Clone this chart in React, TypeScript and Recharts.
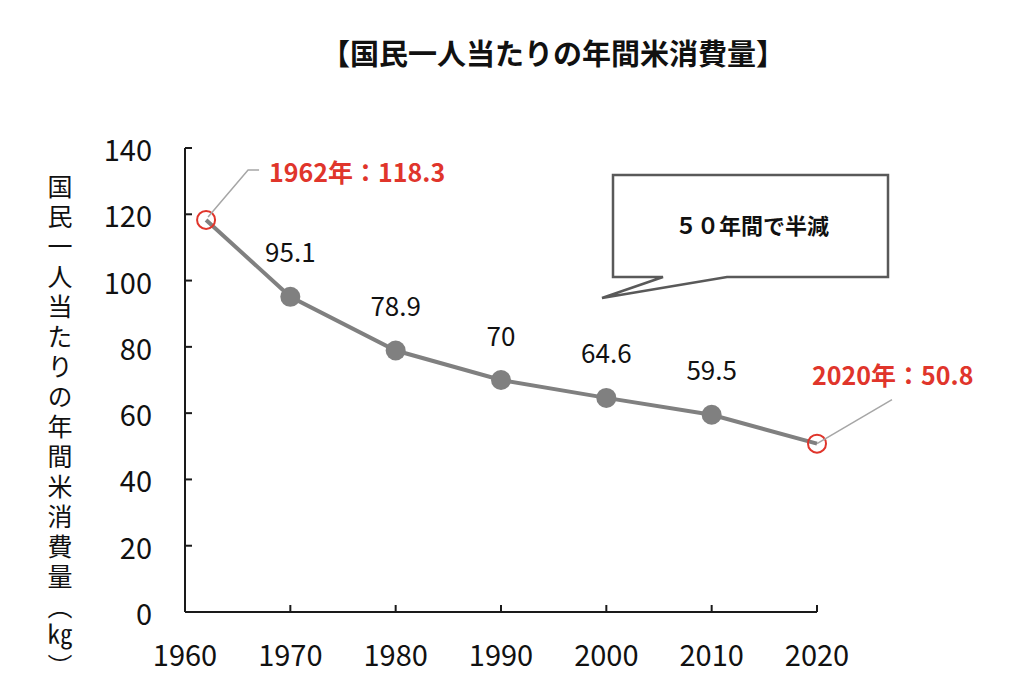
import React from 'react';
import { LabelList, Line, LineChart, XAxis, YAxis } from 'recharts';

const years = [1962, 1970, 1980, 1990, 2000, 2010, 2020];
const consumption = [118.3, 95.1, 78.9, 70, 64.6, 59.5, 50.8];
const highlightYears = [1962, 2020];
const xTicks = [1960, 1970, 1980, 1990, 2000, 2010, 2020];
const yTicks = [0, 20, 40, 60, 80, 100, 120, 140];

const title = '【国民一人当たりの年間米消費量】';
const yAxisTitle = '国民一人当たりの年間米消費量（㎏）';
const calloutText = '５０年間で半減';

const FONT = '"Noto Sans CJK JP", "Noto Sans", sans-serif';
const RED = '#e0352b';
const GRAY = '#808080';
const AXIS = '#1a1a1a';

const chartData = years.map((year, i) => ({
  year,
  value: consumption[i],
  highlight: highlightYears.includes(year),
}));

const YTick = (props: any) => {
  const { x, y, payload } = props;
  return (
    <g>
      <line x1={x} y1={y} x2={x + 7} y2={y} stroke={AXIS} strokeWidth={2} />
      <text
        x={x - 33}
        y={y}
        textAnchor="end"
        dominantBaseline="central"
        fontFamily={FONT}
        fontSize={29}
        fill="#111"
      >
        {payload.value}
      </text>
    </g>
  );
};

const XTick = (props: any) => {
  const { x, y, payload } = props;
  return (
    <g>
      <line x1={x} y1={y} x2={x} y2={y - 7} stroke={AXIS} strokeWidth={2} />
      <text
        x={x}
        y={y + 41}
        textAnchor="middle"
        dominantBaseline="central"
        fontFamily={FONT}
        fontSize={29}
        fill="#111"
      >
        {payload.value}
      </text>
    </g>
  );
};

const renderDot = (props: any) => {
  const { cx, cy, payload, index } = props;
  if (payload.highlight) {
    return <circle key={`d${index}`} cx={cx} cy={cy} r={9} fill="none" stroke={RED} strokeWidth={2} />;
  }
  return <circle key={`d${index}`} cx={cx} cy={cy} r={10} fill={GRAY} />;
};

const renderLabel = (props: any) => {
  const { x, y, index } = props;
  const row = chartData[index];
  if (row.highlight) {
    const text = `${row.year}年：${row.value}`;
    if (index === 0) {
      return (
        <g key={`l${index}`}>
          <polyline
            points={`${x + 2},${y - 3} ${x + 42},${y - 50} ${x + 53},${y - 50}`}
            fill="none"
            stroke="#a6a6a6"
            strokeWidth={1.5}
          />
          <text
            x={x + 63}
            y={y - 49}
            dominantBaseline="central"
            fontFamily={FONT}
            fontSize={25}
            fontWeight={700}
            fill={RED}
          >
            {text}
          </text>
        </g>
      );
    }
    return (
      <g key={`l${index}`}>
        <line x1={x} y1={y} x2={x + 75} y2={y - 44} stroke="#a6a6a6" strokeWidth={1.5} />
        <text
          x={x - 5}
          y={y - 70}
          dominantBaseline="central"
          fontFamily={FONT}
          fontSize={25}
          fontWeight={700}
          fill={RED}
        >
          {text}
        </text>
      </g>
    );
  }
  return (
    <text
      key={`l${index}`}
      x={x}
      y={y - 46}
      textAnchor="middle"
      dominantBaseline="central"
      fontFamily={FONT}
      fontSize={26}
      fill="#111"
    >
      {row.value}
    </text>
  );
};

export default function App() {
  return (
    <div style={{ position: 'absolute', left: 0, top: 0, width: 1024, height: 692, background: '#fff' }}>
      <LineChart
        width={1024}
        height={692}
        data={chartData}
        margin={{ top: 148, right: 207, bottom: 30, left: 125 }}
      >
        <XAxis
          dataKey="year"
          type="number"
          domain={[1960, 2020]}
          ticks={xTicks}
          interval={0}
          height={50}
          tickSize={0}
          tickMargin={0}
          tickLine={false}
          axisLine={{ stroke: AXIS, strokeWidth: 2 }}
          tick={XTick}
        />
        <YAxis
          type="number"
          domain={[0, 140]}
          ticks={yTicks}
          interval={0}
          width={60}
          tickSize={0}
          tickMargin={0}
          tickLine={false}
          axisLine={{ stroke: AXIS, strokeWidth: 2 }}
          tick={YTick}
        />
        <Line
          type="linear"
          dataKey="value"
          stroke={GRAY}
          strokeWidth={4}
          dot={renderDot}
          activeDot={false}
          isAnimationActive={false}
        >
          <LabelList dataKey="value" content={renderLabel} />
        </Line>
      </LineChart>
      <svg
        width={1024}
        height={692}
        style={{ position: 'absolute', left: 0, top: 0, pointerEvents: 'none' }}
      >
        <text
          x={553}
          y={52}
          textAnchor="middle"
          dominantBaseline="central"
          fontFamily={FONT}
          fontSize={29}
          fontWeight={700}
          fill="#111"
        >
          {title}
        </text>
        <text
          x={60}
          y={174}
          fontFamily={FONT}
          fontSize={25}
          letterSpacing={5}
          fill="#111"
          style={{ writingMode: 'vertical-rl' }}
        >
          {yAxisTitle}
        </text>
        <path
          d="M613,175 H888 V277 H727 L602,298 L663,277 H613 Z"
          fill="#fff"
          stroke="#595959"
          strokeWidth={2.5}
        />
        <text
          x={752}
          y={224}
          textAnchor="middle"
          dominantBaseline="central"
          fontFamily={FONT}
          fontSize={22}
          fontWeight={700}
          fill="#111"
        >
          {calloutText}
        </text>
      </svg>
    </div>
  );
}
